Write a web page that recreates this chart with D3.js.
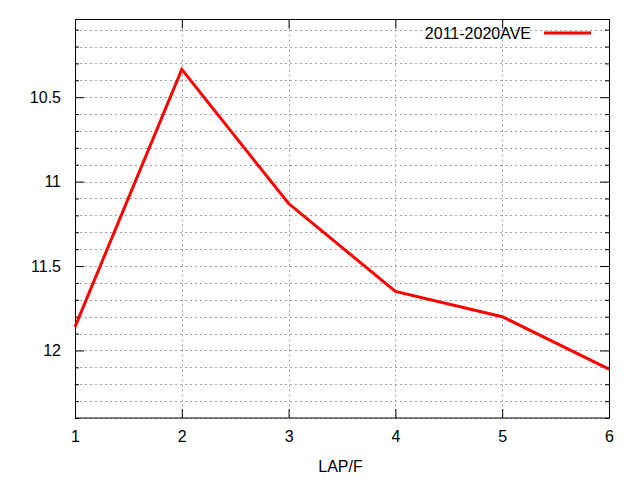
<!DOCTYPE html>
<html><head><meta charset="utf-8">
<script src="https://cdn.jsdelivr.net/npm/d3@7"></script>
<style>body{margin:0;background:#fff}svg{display:block}text{font-family:"Liberation Sans",Arial,sans-serif;font-size:16px;fill:#000}</style>
</head><body>
<script>
const laps = [1, 2, 3, 4, 5, 6];
const ave = [11.86, 10.335, 11.13, 11.65, 11.80, 12.11];
const seriesName = "2011-2020AVE";
const yMajorTicks = [10.5, 11, 11.5, 12];
const yMinorTicks = [10.1,10.2,10.3,10.4,10.5,10.6,10.7,10.8,10.9,11,11.1,11.2,11.3,11.4,11.5,11.6,11.7,11.8,11.9,12,12.1,12.2,12.3,12.4];
const xTicks = [1, 2, 3, 4, 5, 6];
const xLabel = "LAP/F";

const W = 640, H = 480;
const m = {l:75, r:31, t:19.5, b:62};
const svg = d3.select("body").append("svg").attr("width", W).attr("height", H);
const x = d3.scaleLinear().domain([1, 6]).range([m.l, W - m.r]);
const y = d3.scaleLinear().domain([10.04, 12.4]).range([m.t, H - m.b]);
const X0 = m.l, X1 = W - m.r, Y0 = m.t, Y1 = H - m.b;

// grid
const g = svg.append("g").attr("stroke", "#a0a0a0").attr("stroke-width", 1).attr("stroke-dasharray", "2,3");
yMinorTicks.forEach(v => {
  const yy = Math.round(y(v)) + 0.5;
  g.append("line").attr("x1", X0).attr("x2", X1).attr("y1", yy).attr("y2", yy);
});
xTicks.slice(1, -1).forEach(v => {
  const xx = Math.round(x(v)) + 0.5;
  g.append("line").attr("x1", xx).attr("x2", xx).attr("y1", Y0).attr("y2", Y1);
});

// axes with d3
const minor = yMinorTicks.filter(v => !yMajorTicks.includes(v));
const axL = svg.append("g").attr("transform", `translate(${X0},0)`)
  .call(d3.axisLeft(y).tickValues(yMajorTicks).tickFormat(d3.format("")).tickSize(-9).tickPadding(14));
const axLm = svg.append("g").attr("transform", `translate(${X0},0)`)
  .call(d3.axisLeft(y).tickValues(minor).tickFormat("").tickSize(-4));
const axR = svg.append("g").attr("transform", `translate(${X1},0)`)
  .call(d3.axisRight(y).tickValues(yMajorTicks).tickFormat("").tickSize(-9));
const axRm = svg.append("g").attr("transform", `translate(${X1},0)`)
  .call(d3.axisRight(y).tickValues(minor).tickFormat("").tickSize(-4));
const axB = svg.append("g").attr("transform", `translate(0,${Y1})`)
  .call(d3.axisBottom(x).tickValues(xTicks).tickFormat(d3.format("d")).tickSize(-9).tickPadding(13));
const axT = svg.append("g").attr("transform", `translate(0,${Y0})`)
  .call(d3.axisTop(x).tickValues(xTicks).tickFormat("").tickSize(-9));
[axL, axLm, axR, axRm, axB, axT].forEach(a => {
  a.select(".domain").remove();
  a.attr("font-size", null).attr("font-family", null);
  a.selectAll("line").attr("stroke", "#000");
});

// border
svg.append("rect").attr("x", X0 + 0.5).attr("y", Y0).attr("width", X1 - X0).attr("height", Y1 - Y0)
  .attr("fill", "none").attr("stroke", "#000").attr("stroke-width", 1);

// line
const line = d3.line().x((d, i) => x(laps[i])).y(d => y(d));
svg.append("path").datum(ave).attr("d", line).attr("fill", "none")
  .attr("stroke", "#ff0000").attr("stroke-width", 3).attr("stroke-linejoin", "miter");

// legend
const ly = 33;
svg.append("text").attr("x", 531).attr("y", ly).attr("dy", "0.35em").attr("text-anchor", "end").text(seriesName);
svg.append("line").attr("x1", 544).attr("x2", 591).attr("y1", ly).attr("y2", ly)
  .attr("stroke", "#ff0000").attr("stroke-width", 3);

// x label
svg.append("text").attr("x", 340.5).attr("y", 466.5).attr("dy", "0.35em").attr("text-anchor", "middle").text(xLabel);
</script>
</body></html>
